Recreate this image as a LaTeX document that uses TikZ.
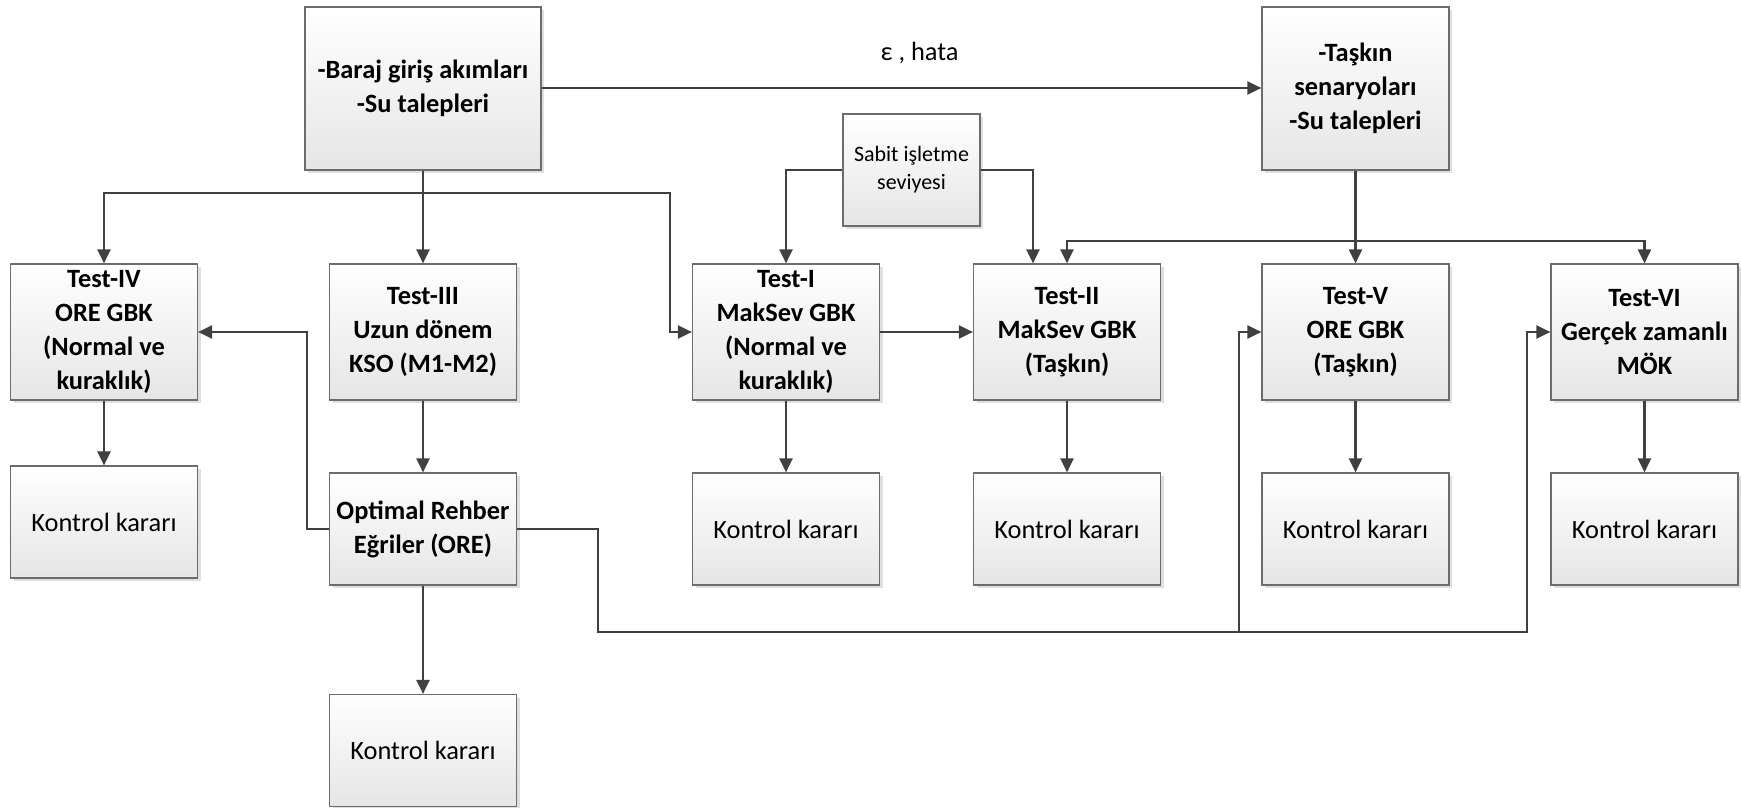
\documentclass[tikz,border=0pt]{standalone}
\usepackage{fontspec}
\setmainfont{Carlito}
\usetikzlibrary{arrows.meta,shadows}

\begin{document}
\begin{tikzpicture}[x=0.5pt,y=-0.5pt,
    box/.style={draw=gray!85!black, line width=0.6pt, top color=white, bottom color=gray!20,
        minimum width=93.5pt, minimum height=68pt, align=center, inner sep=2pt,
        drop shadow={shadow xshift=1.5pt,shadow yshift=-1.5pt,opacity=0.25,fill=gray}},
    test/.style={box, font=\fontsize{13.2}{17}\selectfont\bfseries},
    karar/.style={box, minimum height=56pt, font=\fontsize{13.2}{16}\selectfont},
    arr/.style={draw=black!75, line width=1.1pt, -{Triangle[length=7pt,width=6.5pt]}},
    line/.style={draw=black!75, line width=1.1pt}]
    \useasboundingbox (0,0) rectangle (1741,808);
    % Inputs
    \node[test, minimum width=118pt, minimum height=81.5pt] (baraj) at (423,88.5) {-Baraj giriş akımları\\-Su talepleri};
    \node[test, minimum height=81.5pt] (taskin) at (1355.5,88.5) {-Taşkın\\senaryoları\\-Su talepleri};
    \node[karar, minimum width=68.5pt, font=\fontsize{11}{14}\selectfont] (sabit) at (911.5,170) {Sabit işletme\\seviyesi};
    % Test boxes
    \node[test] (test4) at (104,332) {Test-IV\\ORE GBK\\(Normal ve\\kuraklık)};
    \node[test] (test3) at (423,332) {Test-III\\Uzun dönem\\KSO (M1-M2)};
    \node[test] (test1) at (786,332) {Test-I\\MakSev GBK\\(Normal ve\\kuraklık)};
    \node[test] (test2) at (1067,332) {Test-II\\MakSev GBK\\(Taşkın)};
    \node[test] (test5) at (1355.5,332) {Test-V\\ORE GBK\\(Taşkın)};
    \node[test] (test6) at (1644.5,332) {Test-VI\\Gerçek zamanlı\\MÖK};
    % Guide curves and decisions
    \node[test, minimum height=56pt] (ore) at (423,529) {Optimal Rehber\\Eğriler (ORE)};
    \node[karar] (karar4) at (104,522) {Kontrol kararı};
    \node[karar] (karar1) at (786,529) {Kontrol kararı};
    \node[karar] (karar2) at (1067,529) {Kontrol kararı};
    \node[karar] (karar5) at (1355.5,529) {Kontrol kararı};
    \node[karar] (karar6) at (1644.5,529) {Kontrol kararı};
    \node[karar] (karar3) at (423,750.5) {Kontrol kararı};

    % Top connectors
    \draw[arr] (baraj.east |- 0,88) -- (taskin.west |- 0,88)
        node[midway, above=8pt, xshift=9pt, font=\fontsize{13.2}{16}\selectfont] (hata) {ε , hata};
    \coordinate (split) at (423,193);
    \draw[line] (baraj.south) -- (split);
    \draw[arr] (split) -- (test3.north);
    \draw[arr] (split) -| (test4.north);
    \draw[arr] (split) -| (670,332) -- (test1.west);
    \draw[arr] (sabit.west) -| (test1.north);
    \draw[arr] (sabit.east) -| ([xshift=-17pt]test2.north);
    \coordinate (junc) at (1355.5,241);
    \draw[arr] (taskin.south) -- (test5.north);
    \draw[arr] (junc) -| (test2.north);
    \draw[arr] (junc) -| (test6.north);
    \draw[arr] (test1.east) -- (test2.west);

    % ORE feedback
    \draw[arr] (test3.south) -- (ore.north);
    \draw[arr] (ore.west) -- ++(-22,0) |- (test4.east);
    \coordinate (bus) at (1239,632);
    \draw[arr] (ore.east) -- ++(81,0) -- ++(0,103) -- (1527,632) |- (test6.west);
    \draw[arr] (bus) |- (test5.west);

    % Decisions
    \draw[arr] (test4.south) -- (karar4.north);
    \draw[arr] (ore.south) -- (karar3.north);
    \draw[arr] (test1.south) -- (karar1.north);
    \draw[arr] (test2.south) -- (karar2.north);
    \draw[arr] (test5.south) -- (karar5.north);
    \draw[arr] (test6.south) -- (karar6.north);
\end{tikzpicture}
\end{document}
